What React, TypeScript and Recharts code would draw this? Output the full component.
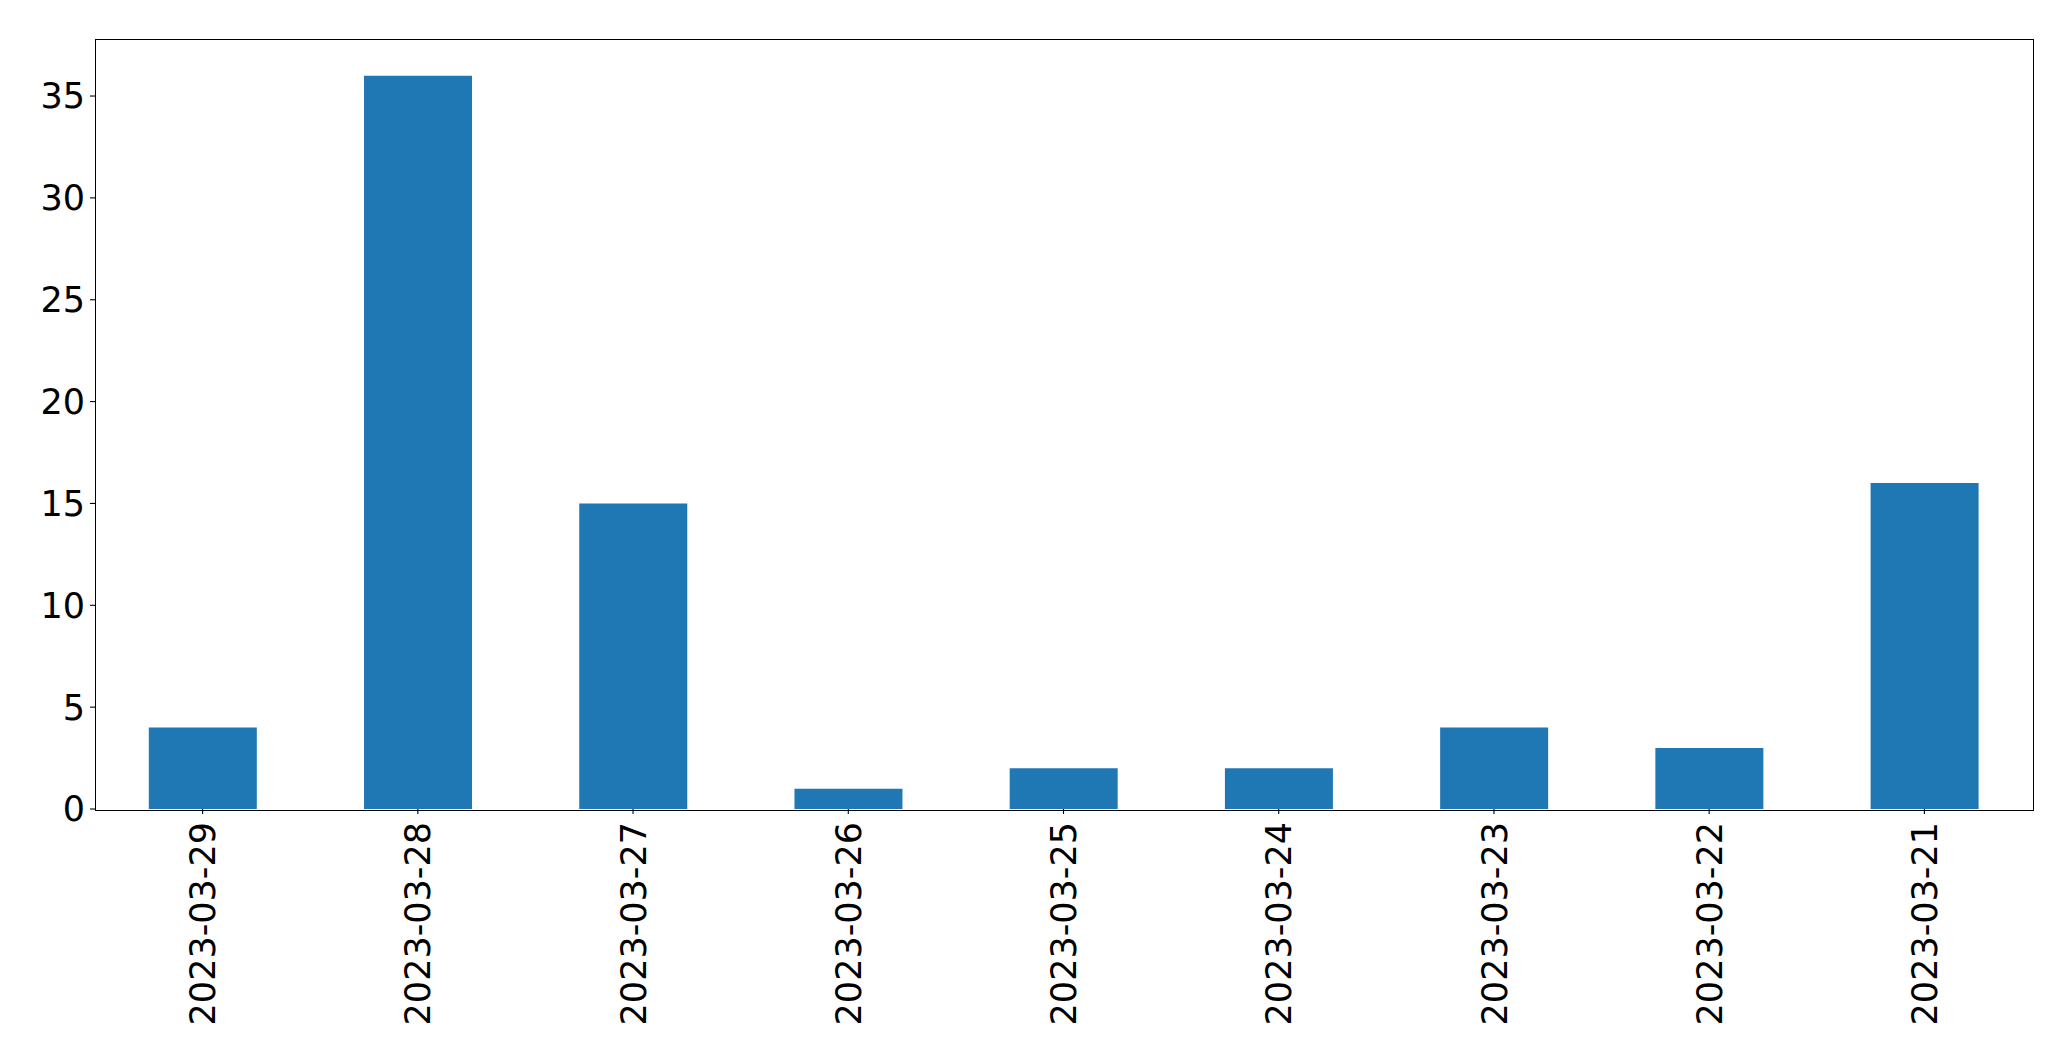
import React from 'react';
import { BarChart, Bar, XAxis, YAxis } from 'recharts';

const dates = ['2023-03-29', '2023-03-28', '2023-03-27', '2023-03-26', '2023-03-25', '2023-03-24', '2023-03-23', '2023-03-22', '2023-03-21'];
const counts = [4, 36, 15, 1, 2, 2, 4, 3, 16];
const yTicks = [0, 5, 10, 15, 20, 25, 30, 35];

const data = dates.map((d, i) => ({ date: d, count: counts[i] }));

const FONT = 'DejaVu Sans';
const FONT_SIZE = 35;

const W = 2071;
const H = 1061;
const M = { top: 39, right: 39, left: 95, bottom: 252 };

const DateTick = (props: any) => {
  const { x, y, payload } = props;
  return (
    <text
      x={0}
      y={0}
      transform={`translate(${x},${y + 6}) rotate(-90)`}
      textAnchor="end"
      dy="0.36em"
      fontFamily={FONT}
      fontSize={FONT_SIZE}
      fill="#000"
    >
      {payload.value}
    </text>
  );
};

const App: React.FC = () => {
  return (
    <div style={{ position: 'absolute', left: 0, top: 0, width: W, height: H, background: '#fff' }}>
      <BarChart
        width={W}
        height={H}
        data={data}
        margin={{ top: M.top, right: M.right, left: 0, bottom: 0 }}
        barCategoryGap="25%"
      >
        <XAxis
          dataKey="date"
          height={M.bottom}
          interval={0}
          axisLine={false}
          tickLine={{ stroke: '#000', strokeWidth: 1.1 }}
          tickSize={5}
          tick={<DateTick />}
        />
        <YAxis
          width={M.left}
          domain={[0, 37.8]}
          ticks={yTicks}
          allowDataOverflow
          axisLine={false}
          tickLine={{ stroke: '#000', strokeWidth: 1.1 }}
          tickSize={5}
          tickMargin={5}
          tick={{ fontFamily: FONT, fontSize: FONT_SIZE, fill: '#000' }}
        />
        <Bar dataKey="count" fill="#1f77b4" isAnimationActive={false} />
      </BarChart>
      {/* frame around the plot area */}
      <div
        style={{
          position: 'absolute',
          left: M.left - 0.5,
          top: M.top - 0.5,
          width: W - M.left - M.right,
          height: H - M.top - M.bottom,
          border: '1.1px solid #000',
          pointerEvents: 'none',
        }}
      />
    </div>
  );
};

export default App;
